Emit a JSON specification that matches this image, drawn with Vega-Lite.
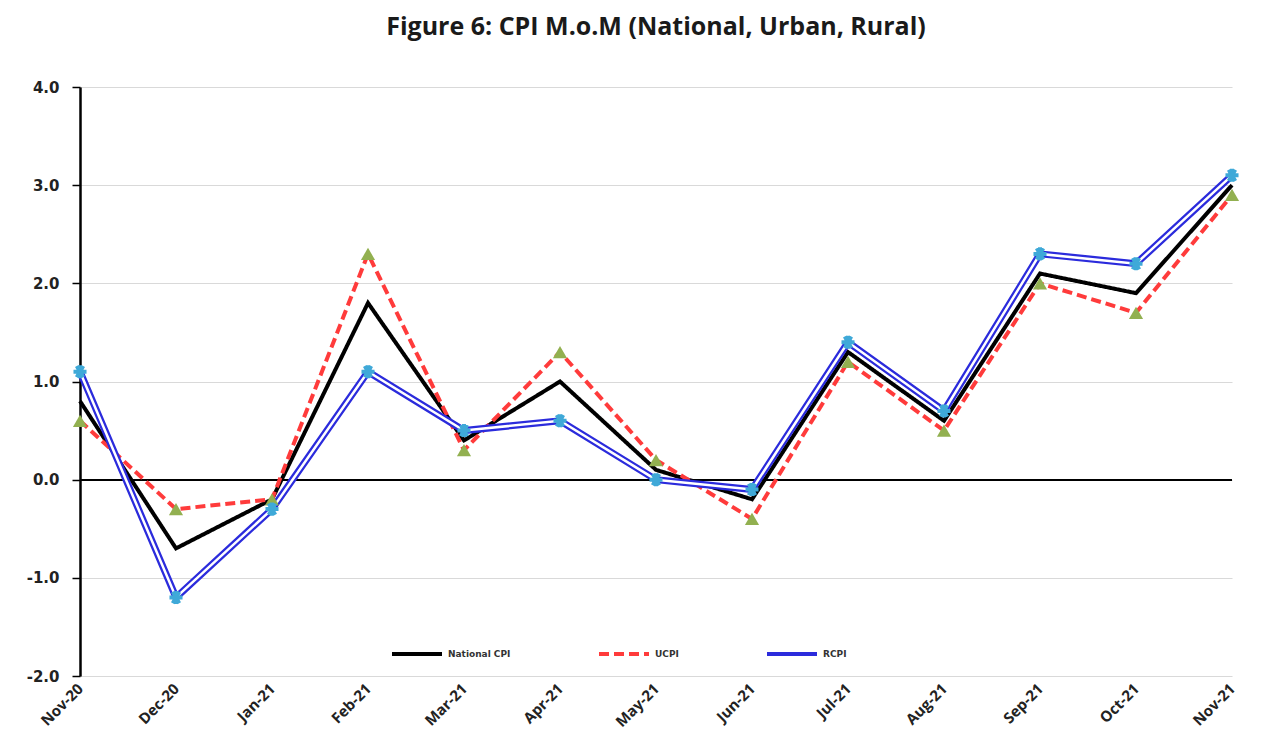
{
  "$schema": "https://vega.github.io/schema/vega-lite/v6.json",
  "width": 1152,
  "height": 589,
  "autosize": {"type": "none"},
  "padding": {"left": 80, "top": 87, "right": 34, "bottom": 75},
  "background": "white",
  "config": {"view": {"stroke": null}},
  "title": {"text": "Figure 6: CPI M.o.M (National, Urban, Rural)", "font": "Open Sans", "fontSize": 25, "fontWeight": "bold", "color": "#1a1a1a", "offset": 40, "anchor": "middle"},
  "data": {"values": [
    {"month": "Nov-20", "series": "National CPI", "value": 0.8},
    {"month": "Dec-20", "series": "National CPI", "value": -0.7},
    {"month": "Jan-21", "series": "National CPI", "value": -0.2},
    {"month": "Feb-21", "series": "National CPI", "value": 1.8},
    {"month": "Mar-21", "series": "National CPI", "value": 0.4},
    {"month": "Apr-21", "series": "National CPI", "value": 1.0},
    {"month": "May-21", "series": "National CPI", "value": 0.1},
    {"month": "Jun-21", "series": "National CPI", "value": -0.2},
    {"month": "Jul-21", "series": "National CPI", "value": 1.3},
    {"month": "Aug-21", "series": "National CPI", "value": 0.6},
    {"month": "Sep-21", "series": "National CPI", "value": 2.1},
    {"month": "Oct-21", "series": "National CPI", "value": 1.9},
    {"month": "Nov-21", "series": "National CPI", "value": 3.0},
    {"month": "Nov-20", "series": "UCPI", "value": 0.6},
    {"month": "Dec-20", "series": "UCPI", "value": -0.3},
    {"month": "Jan-21", "series": "UCPI", "value": -0.2},
    {"month": "Feb-21", "series": "UCPI", "value": 2.3},
    {"month": "Mar-21", "series": "UCPI", "value": 0.3},
    {"month": "Apr-21", "series": "UCPI", "value": 1.3},
    {"month": "May-21", "series": "UCPI", "value": 0.2},
    {"month": "Jun-21", "series": "UCPI", "value": -0.4},
    {"month": "Jul-21", "series": "UCPI", "value": 1.2},
    {"month": "Aug-21", "series": "UCPI", "value": 0.5},
    {"month": "Sep-21", "series": "UCPI", "value": 2.0},
    {"month": "Oct-21", "series": "UCPI", "value": 1.7},
    {"month": "Nov-21", "series": "UCPI", "value": 2.9},
    {"month": "Nov-20", "series": "RCPI", "value": 1.1},
    {"month": "Dec-20", "series": "RCPI", "value": -1.2},
    {"month": "Jan-21", "series": "RCPI", "value": -0.3},
    {"month": "Feb-21", "series": "RCPI", "value": 1.1},
    {"month": "Mar-21", "series": "RCPI", "value": 0.5},
    {"month": "Apr-21", "series": "RCPI", "value": 0.6},
    {"month": "May-21", "series": "RCPI", "value": 0.0},
    {"month": "Jun-21", "series": "RCPI", "value": -0.1},
    {"month": "Jul-21", "series": "RCPI", "value": 1.4},
    {"month": "Aug-21", "series": "RCPI", "value": 0.7},
    {"month": "Sep-21", "series": "RCPI", "value": 2.3},
    {"month": "Oct-21", "series": "RCPI", "value": 2.2},
    {"month": "Nov-21", "series": "RCPI", "value": 3.1}
  ]},
  "layer": [
    {
      "mark": {"type": "rule", "color": "#000000", "strokeWidth": 1.5},
      "encoding": {"y": {"datum": 0, "type": "quantitative", "scale": {"domain": [-2, 4], "nice": false},
        "axis": {"title": null, "grid": true, "values": [-2, -1, 0, 1, 2, 3, 4], "labelExpr": "replace(format(datum.value, '.1f'), '\u2212', '-')", "domainColor": "#000000", "domainWidth": 2.5, "tickColor": "#000000", "tickWidth": 1.5, "tickSize": 8, "gridColor": "#d9d9d9", "gridWidth": 1, "labelFont": "DejaVu Sans", "labelFontWeight": "bold", "labelFontSize": 15, "labelColor": "#222222", "labelPadding": 13}}}
    },
    {
      "mark": {"type": "line", "strokeWidth": 4},
      "encoding": {
        "x": {"field": "month", "type": "ordinal", "sort": null, "scale": {"type": "point", "padding": 0},
          "axis": {"title": null, "domain": false, "ticks": false, "grid": false, "labelAngle": -45, "labelAlign": "right", "labelBaseline": "middle", "labelFont": "Open Sans", "labelFontWeight": "bold", "labelFontSize": 15, "labelColor": "#222222", "labelPadding": 10}},
        "y": {"field": "value", "type": "quantitative", "scale": {"domain": [-2, 4], "nice": false},
          "axis": {"title": null, "grid": true, "values": [-2, -1, 0, 1, 2, 3, 4], "labelExpr": "replace(format(datum.value, '.1f'), '\u2212', '-')", "domainColor": "#000000", "domainWidth": 2.5, "tickColor": "#000000", "tickWidth": 1.5, "tickSize": 8, "gridColor": "#d9d9d9", "gridWidth": 1, "labelFont": "DejaVu Sans", "labelFontWeight": "bold", "labelFontSize": 15, "labelColor": "#222222", "labelPadding": 13}},
        "color": {"field": "series", "type": "nominal",
          "scale": {"domain": ["National CPI", "UCPI", "RCPI"], "range": ["#000000", "#ff3b3b", "#2b2bdc"]},
          "legend": {"title": null, "orient": "none", "legendX": 310, "legendY": 540, "direction": "horizontal", "symbolType": "stroke", "symbolSize": 2500, "symbolStrokeWidth": 4, "labelFont": "DejaVu Sans", "labelFontSize": 9, "labelFontWeight": "bold", "labelColor": "#333333", "columnPadding": 80, "labelOffset": 4}},
        "strokeDash": {"field": "series", "type": "nominal",
          "scale": {"domain": ["National CPI", "UCPI", "RCPI"], "range": [[1, 0], [10, 5], [1, 0]]}}
      }
    },
    {
      "transform": [{"filter": "datum.series === 'RCPI'"}],
      "mark": {"type": "line", "color": "#2b2bdc", "strokeWidth": 7},
      "encoding": {
        "x": {"field": "month", "type": "ordinal", "sort": null},
        "y": {"field": "value", "type": "quantitative"}
      }
    },
    {
      "transform": [{"filter": "datum.series === 'RCPI'"}],
      "mark": {"type": "line", "color": "#ffffff", "strokeWidth": 2.5},
      "encoding": {
        "x": {"field": "month", "type": "ordinal", "sort": null},
        "y": {"field": "value", "type": "quantitative"}
      }
    },
    {
      "transform": [{"filter": "datum.series === 'UCPI'"}],
      "mark": {"type": "point", "shape": "triangle-up", "filled": true, "color": "#92b050", "opacity": 1, "size": 200},
      "encoding": {
        "x": {"field": "month", "type": "ordinal", "sort": null},
        "y": {"field": "value", "type": "quantitative"}
      }
    },
    {
      "transform": [{"filter": "datum.series === 'RCPI'"}],
      "mark": {"type": "point", "shape": "M-1,0L1,0M-0.5,-0.87L0.5,0.87M-0.5,0.87L0.5,-0.87M0,-1L0,1", "filled": false, "color": "#3fa9d8", "opacity": 1, "size": 170, "strokeWidth": 4},
      "encoding": {
        "x": {"field": "month", "type": "ordinal", "sort": null},
        "y": {"field": "value", "type": "quantitative"}
      }
    }
  ]
}
